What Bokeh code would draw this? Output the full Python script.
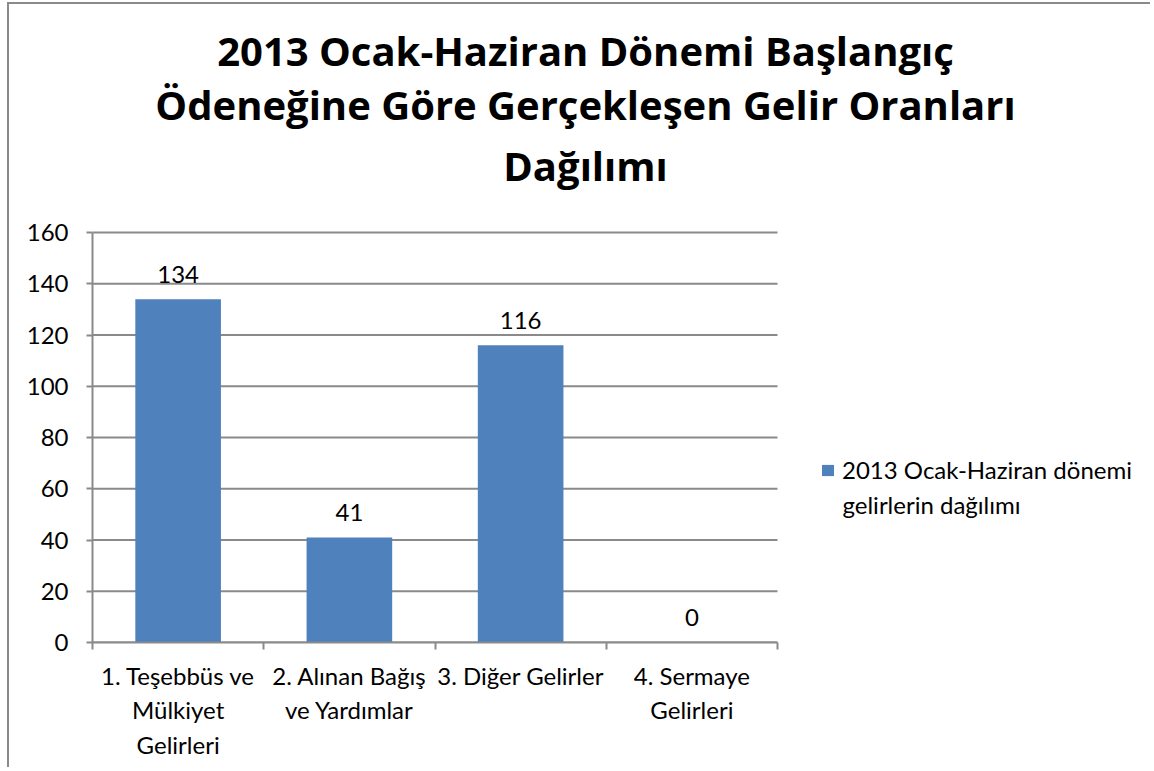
from bokeh.plotting import figure
from bokeh.models import Range1d, FixedTicker, Label, Legend, LegendItem, ColumnDataSource
from bokeh.core.properties import value
from bokeh.embed import file_html
from bokeh.resources import INLINE

# ---- data ----
categories = ["1. Teşebbüs ve\nMülkiyet\nGelirleri",
              "2. Alınan Bağış\nve Yardımlar",
              "3. Diğer Gelirler",
              "4. Sermaye\nGelirleri"]
values = [134, 41, 116, 0]
y_ticks = [0, 20, 40, 60, 80, 100, 120, 140, 160]
series_name = "2013 Ocak-Haziran dönemi\ngelirlerin dağılımı"
title_lines = ["2013 Ocak-Haziran Dönemi Başlangıç",
               "Ödeneğine Göre Gerçekleşen Gelir Oranları",
               "Dağılımı"]

FONT = "Lato"
TFONT = "Open Sans"
GRAY = "#8a8a8a"
BLUE = "#4F81BD"

# canvas geometry (canvas origin sits at page (9, 4))
W, H = 1143, 765
FL, FB = 83, 638            # frame left / bottom in canvas px
AX_R, AX_T = 768, 228       # where x=4 and y=160 fall on the canvas
n = len(categories)
ymax = y_ticks[-1]
px_x = (AX_R - FL) / n
px_y = (FB - AX_T) / ymax
x_end = (W - FL) / px_x
y_end = FB / px_y

xs = [i + 0.5 for i in range(n)]
src = ColumnDataSource(dict(x=xs, top=values, label=[str(v) for v in values]))

p = figure(width=W, height=H, output_backend="svg", toolbar_location=None, title=None,
           x_range=Range1d(0, x_end), y_range=Range1d(0, y_end),
           min_border_left=FL, min_border_right=0,
           min_border_top=0, min_border_bottom=H - FB)
p.outline_line_color = None
p.background_fill_color = "white"
p.border_fill_color = "white"
p.styles = {"margin-left": "7px", "margin-top": "2px",
            "border-left": "2px solid " + GRAY, "border-top": "2px solid " + GRAY}

# gridlines limited to the category span
p.xgrid.grid_line_color = None
p.ygrid.grid_line_color = None
p.segment(x0=[0] * len(y_ticks), x1=[n] * len(y_ticks), y0=y_ticks, y1=y_ticks,
          line_color=GRAY, line_width=2)

bars = p.vbar(x="x", top="top", width=0.5, bottom=0, source=src,
              fill_color=BLUE, line_color=BLUE, line_width=0)

p.text(x="x", y="top", text="label", source=src, y_offset=-25,
       text_align="center", text_baseline="alphabetic",
       text_font=value(FONT), text_font_size="24px", text_color="black")

# x axis
xa = p.xaxis[0]
xa.bounds = (0, n)
xa.ticker = FixedTicker(ticks=xs, minor_ticks=list(range(n + 1)))
xa.major_label_overrides = {x: c for x, c in zip(xs, categories)}
xa.major_tick_out = 0
xa.major_tick_in = 0
xa.minor_tick_out = 7
xa.minor_tick_in = 0
xa.minor_tick_line_color = GRAY
xa.minor_tick_line_width = 2
xa.axis_line_color = GRAY
xa.axis_line_width = 2
xa.major_label_text_font = FONT
xa.major_label_text_font_size = "24px"
xa.major_label_text_color = "black"
xa.major_label_standoff = 11

# y axis
ya = p.yaxis[0]
ya.bounds = (0, ymax)
ya.ticker = FixedTicker(ticks=y_ticks)
ya.major_tick_out = 6
ya.major_tick_in = 0
ya.minor_tick_out = 0
ya.major_tick_line_color = GRAY
ya.major_tick_line_width = 2
ya.axis_line_color = GRAY
ya.axis_line_width = 2
ya.major_label_text_font = FONT
ya.major_label_text_font_size = "24px"
ya.major_label_text_color = "black"
ya.major_label_standoff = 18

# title: three centred lines over the whole chart
cx = 576 - FL
for line, base in zip(title_lines, [46, 100, 161]):
    p.add_layout(Label(x=cx, y=FB - base, x_units="screen", y_units="screen",
                       text=line, text_align="center", text_baseline="alphabetic",
                       text_font=TFONT, text_font_size="40px",
                       text_font_style="bold", text_color="black"))

# legend: glyph + first line of the series name, second line as a label below
name_lines = series_name.split("\n")
legend = Legend(items=[LegendItem(label=name_lines[0], renderers=[bars])],
                location=(728, 158), orientation="vertical",
                border_line_color=None, background_fill_alpha=0,
                padding=0, margin=0, glyph_width=15, glyph_height=14,
                label_standoff=7, label_text_font=FONT,
                label_text_font_size="24px", label_text_color="black")
p.add_layout(legend, "center")
p.add_layout(Label(x=750, y=FB - 500, x_units="screen", y_units="screen",
                   text=name_lines[1], text_align="left", text_baseline="alphabetic",
                   text_font=FONT, text_font_size="24px", text_color="black"))

open("out.html", "w").write(file_html(p, INLINE))
